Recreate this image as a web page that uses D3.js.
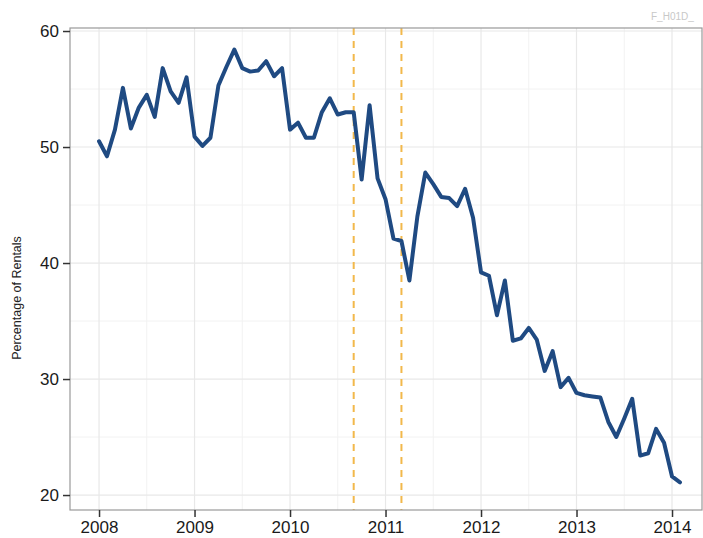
<!DOCTYPE html>
<html>
<head>
<meta charset="utf-8">
<script src="https://cdn.jsdelivr.net/npm/d3@7"></script>
<style>
  html, body { margin: 0; padding: 0; background: #fff; }
  svg { display: block; font-family: "Liberation Sans", Arial, sans-serif; }
</style>
</head>
<body>
<svg id="chart" width="703" height="538"></svg>
<script>
// Monthly series, Jan 2008 .. Feb 2014
const startYear = 2008;
const values = [
  50.5, 49.2, 51.5, 55.1, 51.6, 53.4, 54.5, 52.6, 56.8, 54.8, 53.8, 56.0,
  50.9, 50.1, 50.8, 55.3, 56.9, 58.4, 56.8, 56.5, 56.6, 57.4, 56.1, 56.8,
  51.5, 52.1, 50.8, 50.8, 53.0, 54.2, 52.8, 53.0, 53.0, 47.2, 53.6, 47.3,
  45.5, 42.1, 41.9, 38.5, 44.0, 47.8, 46.8, 45.7, 45.6, 44.9, 46.4, 43.9,
  39.2, 38.9, 35.5, 38.5, 33.3, 33.5, 34.4, 33.4, 30.7, 32.4, 29.3, 30.1,
  28.8, 28.6, 28.5, 28.4, 26.3, 25.0, 26.6, 28.3, 23.4, 23.6, 25.7, 24.5,
  21.6, 21.1
];
const xTicks = [2008, 2009, 2010, 2011, 2012, 2013, 2014];
const yTicks = [20, 30, 40, 50, 60];
const xMinorTicks = [2007.5, 2008.5, 2009.5, 2010.5, 2011.5, 2012.5, 2013.5];
const yMinorTicks = [25, 35, 45, 55];
const eventDates = [2010 + 8 / 12, 2011 + 2 / 12];
const yLabel = "Percentage of Rentals";
const tagText = "F_H01D_";

const data = values.map((v, i) => ({ t: startYear + i / 12, v }));

const svg = d3.select("#chart");
const L = 70, R = 702, T = 28, B = 510;

const x = d3.scaleLinear().domain([2007.696, 2014.314]).range([L, R]);
const y = d3.scaleLinear().domain([18.71, 60.26]).range([B, T]);

// panel background
svg.append("rect").attr("x", L).attr("y", T).attr("width", R - L).attr("height", B - T)
  .attr("fill", "#fff");

// minor grid
svg.append("g").selectAll("line").data(xMinorTicks.filter(d => x(d) > L)).join("line")
  .attr("x1", d => x(d)).attr("x2", d => x(d)).attr("y1", T).attr("y2", B)
  .attr("stroke", "#f2f2f2").attr("stroke-width", 1);
svg.append("g").selectAll("line").data(yMinorTicks).join("line")
  .attr("y1", d => y(d)).attr("y2", d => y(d)).attr("x1", L).attr("x2", R)
  .attr("stroke", "#f2f2f2").attr("stroke-width", 1);
// major grid
svg.append("g").selectAll("line").data(xTicks).join("line")
  .attr("x1", d => x(d)).attr("x2", d => x(d)).attr("y1", T).attr("y2", B)
  .attr("stroke", "#e8e8e8").attr("stroke-width", 1.2);
svg.append("g").selectAll("line").data(yTicks).join("line")
  .attr("y1", d => y(d)).attr("y2", d => y(d)).attr("x1", L).attr("x2", R)
  .attr("stroke", "#e8e8e8").attr("stroke-width", 1.2);

// event dashed lines
svg.append("g").selectAll("line").data(eventDates).join("line")
  .attr("x1", d => x(d)).attr("x2", d => x(d)).attr("y1", T).attr("y2", B)
  .attr("stroke", "#f2b84b").attr("stroke-width", 2).attr("stroke-dasharray", "7,6");

// series line
svg.append("path").datum(data)
  .attr("fill", "none").attr("stroke", "#1f4a82").attr("stroke-width", 4)
  .attr("stroke-linejoin", "round").attr("stroke-linecap", "round")
  .attr("d", d3.line().x(d => x(d.t)).y(d => y(d.v)));

// panel border
svg.append("rect").attr("x", L).attr("y", T).attr("width", R - L).attr("height", B - T)
  .attr("fill", "none").attr("stroke", "#999").attr("stroke-width", 1.2);

// axes
const xAxis = svg.append("g").attr("transform", `translate(0,${B})`)
  .call(d3.axisBottom(x).tickValues(xTicks).tickFormat(d3.format("d")).tickSize(7).tickPadding(4));
const yAxis = svg.append("g").attr("transform", `translate(${L},0)`)
  .call(d3.axisLeft(y).tickValues(yTicks).tickSize(7).tickPadding(4));
[xAxis, yAxis].forEach(g => {
  g.select(".domain").remove();
  g.selectAll(".tick line").attr("stroke", "#333").attr("stroke-width", 1.5);
  g.selectAll(".tick text").attr("fill", "#1a1a1a").style("font-size", "17px")
    .style("font-family", "'Liberation Sans', Arial, sans-serif");
});

// y label
svg.append("text")
  .attr("transform", `translate(21,298) rotate(-90)`)
  .attr("text-anchor", "middle")
  .attr("fill", "#222").style("font-size", "12.5px")
  .text(yLabel);

// tag
svg.append("text").attr("x", 651).attr("y", 20)
  .attr("fill", "#c8c8c8").style("font-size", "10px")
  .text(tagText);
</script>
</body>
</html>
